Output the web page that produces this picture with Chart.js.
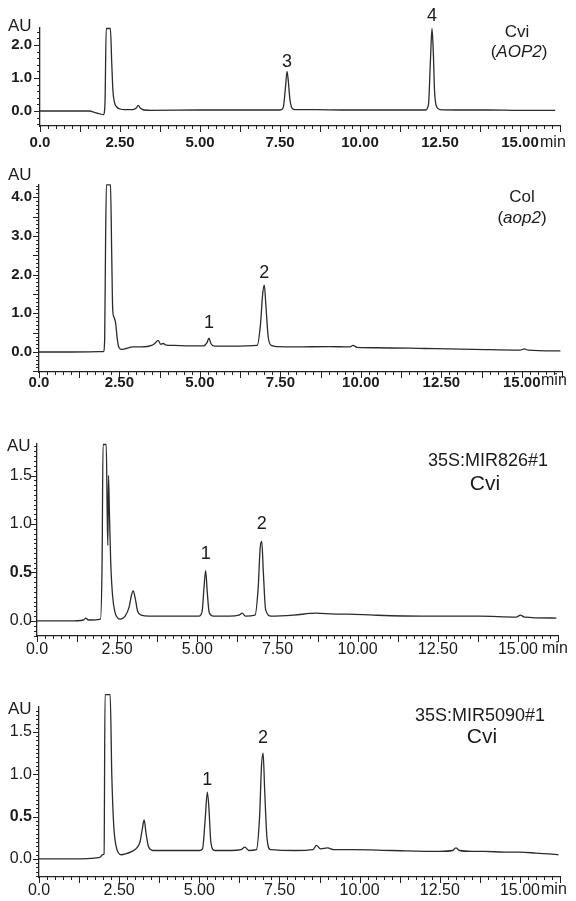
<!DOCTYPE html>
<html>
<head>
<meta charset="utf-8">
<script src="https://cdn.jsdelivr.net/npm/chart.js@4.4.1/dist/chart.umd.min.js"></script>
<style>
  body { margin: 0; background: #fff; }
  #wrap { position: relative; width: 576px; height: 901px; overflow: hidden; }
  canvas { position: absolute; left: 0; }
</style>
</head>
<body>
<div id="wrap">
  <canvas id="p1" width="576" height="160" style="top:0px"></canvas>
  <canvas id="p2" width="576" height="240" style="top:160px"></canvas>
  <canvas id="p3" width="576" height="260" style="top:400px"></canvas>
  <canvas id="p4" width="576" height="241" style="top:660px"></canvas>
</div>
<script>
// x axis (retention time, min)
const xTickValues = [0, 2.5, 5, 7.5, 10, 12.5, 15];
const xTickLabels = ['0.0', '2.50', '5.00', '7.50', '10.00', '12.50', '15.00'];

// Cvi (AOP2)
const cviTime = [0, 1.0, 1.55, 1.7, 1.85, 1.98, 2.03, 2.07, 2.1, 2.2, 2.24, 2.28, 2.33, 2.4, 2.5, 2.65, 2.9, 3.0, 3.07, 3.14, 3.25, 3.5, 5.0, 6.5, 7.5, 7.6, 7.67, 7.72, 7.76, 7.81, 7.88, 7.98, 8.6, 9.5, 11.0, 12.05, 12.14, 12.2, 12.25, 12.29, 12.33, 12.4, 12.5, 13.0, 14.0, 15.0, 16.1];
const cviAU = [0.0, 0.0, 0.0, -0.04, -0.08, -0.11, 0.2, 2.5, 2.5, 2.5, 1.5, 0.6, 0.25, 0.12, 0.06, 0.04, 0.04, 0.08, 0.17, 0.08, 0.03, 0.02, 0.03, 0.03, 0.03, 0.1, 0.7, 1.2, 0.9, 0.35, 0.08, 0.04, 0.04, 0.03, 0.03, 0.03, 0.2, 1.5, 2.5, 1.8, 0.6, 0.12, 0.04, 0.03, 0.03, 0.02, 0.02];
const cviYTicks = [0, 1, 2];
const cviYLabels = ['0.0', '1.0', '2.0'];

// Col (aop2)
const colTime = [0, 1.0, 2.0, 2.04, 2.07, 2.1, 2.22, 2.26, 2.29, 2.33, 2.38, 2.43, 2.48, 2.56, 2.7, 2.9, 3.2, 3.5, 3.62, 3.7, 3.78, 3.86, 3.95, 4.2, 4.7, 5.12, 5.22, 5.28, 5.34, 5.45, 6.0, 6.78, 6.88, 6.95, 7.0, 7.05, 7.12, 7.22, 7.4, 8.0, 9.0, 9.65, 9.76, 9.88, 10.5, 12.0, 13.5, 14.95, 15.08, 15.2, 16.2];
const colAU = [0.0, 0.0, 0.01, 0.3, 3.0, 4.32, 4.32, 2.5, 1.1, 0.9, 0.75, 0.35, 0.12, 0.07, 0.09, 0.13, 0.13, 0.17, 0.24, 0.3, 0.2, 0.22, 0.18, 0.17, 0.16, 0.16, 0.24, 0.36, 0.22, 0.15, 0.15, 0.17, 0.7, 1.5, 1.73, 1.2, 0.4, 0.17, 0.14, 0.13, 0.14, 0.13, 0.17, 0.12, 0.11, 0.09, 0.07, 0.05, 0.08, 0.05, 0.03];
const colYTicks = [0, 1, 2, 3, 4];
const colYLabels = ['0.0', '1.0', '2.0', '3.0', '4.0'];

// 35S:MIR826#1 Cvi
const mir826Time = [0, 1.0, 1.45, 1.52, 1.6, 1.98, 2.03, 2.06, 2.16, 2.19, 2.21, 2.23, 2.26, 2.3, 2.36, 2.44, 2.52, 2.6, 2.75, 2.87, 2.95, 3.0, 3.06, 3.14, 3.25, 3.5, 4.0, 5.05, 5.15, 5.21, 5.26, 5.31, 5.37, 5.5, 6.0, 6.3, 6.4, 6.5, 6.8, 6.9, 6.96, 7.01, 7.06, 7.13, 7.3, 8.0, 8.7, 9.3, 9.7, 10.5, 12.0, 13.8, 14.95, 15.08, 15.2, 16.2];
const mir826AU = [0.0, 0.0, 0.01, 0.03, 0.01, 0.02, 0.6, 1.82, 1.82, 1.1, 0.78, 1.5, 1.1, 0.6, 0.25, 0.08, 0.03, 0.02, 0.05, 0.14, 0.27, 0.31, 0.24, 0.1, 0.06, 0.05, 0.05, 0.05, 0.1, 0.35, 0.52, 0.3, 0.09, 0.05, 0.05, 0.06, 0.08, 0.05, 0.06, 0.35, 0.75, 0.82, 0.5, 0.12, 0.05, 0.06, 0.08, 0.07, 0.07, 0.06, 0.05, 0.05, 0.04, 0.06, 0.04, 0.03];

// 35S:MIR5090#1 Cvi
const mir5090Time = [0, 1.0, 1.9, 1.98, 2.03, 2.06, 2.22, 2.27, 2.33, 2.4, 2.48, 2.56, 2.7, 2.9, 3.05, 3.15, 3.22, 3.28, 3.34, 3.42, 3.55, 4.0, 5.0, 5.1, 5.18, 5.25, 5.3, 5.36, 5.48, 6.0, 6.3, 6.42, 6.55, 6.78, 6.88, 6.94, 6.99, 7.04, 7.11, 7.22, 8.0, 8.55, 8.65, 8.78, 9.0, 9.2, 9.8, 11.0, 12.5, 12.9, 13.0, 13.12, 13.5, 13.9, 14.5, 15.0, 15.5, 15.9, 16.2];
const mir5090AU = [0.0, 0.0, 0.02, 0.05, 0.06, 1.94, 1.94, 1.0, 0.4, 0.16, 0.07, 0.05, 0.06, 0.09, 0.13, 0.2, 0.35, 0.46, 0.3, 0.14, 0.1, 0.1, 0.1, 0.12, 0.45, 0.79, 0.6, 0.2, 0.1, 0.1, 0.11, 0.14, 0.1, 0.11, 0.5, 1.1, 1.25, 0.8, 0.25, 0.11, 0.1, 0.11, 0.16, 0.12, 0.13, 0.11, 0.11, 0.1, 0.09, 0.1, 0.13, 0.1, 0.09, 0.09, 0.08, 0.08, 0.07, 0.06, 0.05];
const mirYTicks = [0, 0.5, 1, 1.5];
const mirYLabels = ['0.0', '0.5', '1.0', '1.5'];

const FONT = '"Liberation Sans", Arial, sans-serif';
const INK = '#1b1b1b';

// minor/major tick marks drawn on the library's scales
const axisTicks = {
  id: 'axisTicks',
  afterDraw(chart, args, opts) {
    const { ctx, scales: { x, y } } = chart;
    ctx.save();
    ctx.strokeStyle = '#222';
    ctx.lineWidth = 1;
    for (let i = 0; i * 0.25 <= x.max + 1e-6; i++) {
      const px = Math.round(x.getPixelForValue(i * 0.25)) + 0.5;
      const len = i % 5 === 0 ? 6 : 3;
      ctx.beginPath();
      ctx.moveTo(px, x.top);
      ctx.lineTo(px, x.top + len);
      ctx.stroke();
    }
    const step = opts.yMinor;
    for (let i = Math.ceil(y.min / step); i * step <= y.max + 1e-6; i++) {
      const v = i * step;
      const r = v / opts.yMajor;
      const major = Math.abs(r - Math.round(r)) < 1e-6;
      const py = Math.round(y.getPixelForValue(v)) + 0.5;
      ctx.beginPath();
      ctx.moveTo(y.right, py);
      ctx.lineTo(y.right - (major ? 6 : 3), py);
      ctx.stroke();
    }
    ctx.restore();
  }
};

// texts: AU, min, sample names, peak numbers
const panelText = {
  id: 'panelText',
  afterDraw(chart, args, opts) {
    const { ctx, scales: { x } } = chart;
    ctx.save();
    ctx.fillStyle = INK;
    ctx.textBaseline = 'middle';
    ctx.textAlign = 'left';
    ctx.font = '17px ' + FONT;
    ctx.fillText('AU', opts.au[0], opts.au[1]);
    ctx.font = '16px ' + FONT;
    ctx.fillText('min', opts.min[0], opts.min[1]);
    (opts.names || []).forEach(n => {
      // segments so that only gene names are italic
      let w = 0;
      n.parts.forEach(p => {
        ctx.font = (p.italic ? 'italic ' : '') + n.size + 'px ' + FONT;
        p.w = ctx.measureText(p.t).width;
        w += p.w;
      });
      let cx = n.x - w / 2;
      n.parts.forEach(p => {
        ctx.font = (p.italic ? 'italic ' : '') + n.size + 'px ' + FONT;
        ctx.fillText(p.t, cx, n.y);
        cx += p.w;
      });
    });
    ctx.textAlign = 'center';
    ctx.font = '18px ' + FONT;
    (opts.peaks || []).forEach(p => {
      ctx.fillText(p.label, x.getPixelForValue(p.t), p.y);
    });
    ctx.restore();
  }
};

function makePanel(id, time, au, cfg) {
  const points = time.map((t, i) => ({ x: t, y: au[i] }));
  return new Chart(document.getElementById(id), {
    type: 'line',
    data: {
      datasets: [{
        data: points,
        borderColor: '#2b2b2b',
        borderWidth: 1.3,
        pointRadius: 0,
        cubicInterpolationMode: 'monotone',
        clip: false
      }]
    },
    options: {
      responsive: false,
      animation: false,
      events: [],
      layout: { padding: { left: 0, top: cfg.top, right: cfg.right, bottom: 0 } },
      plugins: {
        legend: { display: false },
        tooltip: { enabled: false },
        axisTicks: { yMinor: cfg.yMinor, yMajor: cfg.yMajor },
        panelText: cfg.text
      },
      scales: {
        x: {
          type: 'linear',
          min: 0,
          max: 16.25,
          afterBuildTicks: s => { s.ticks = xTickValues.map(v => ({ value: v })); },
          afterFit: s => { s.height = cfg.xHeight; },
          grid: { display: false, drawTicks: false },
          border: { display: true, color: '#222', width: 1.3 },
          ticks: {
            autoSkip: false,
            maxRotation: 0,
            padding: cfg.xPad,
            color: INK,
            font: { family: FONT, size: cfg.fontSize, weight: cfg.bold ? 'bold' : 'normal' },
            callback: (v, i) => xTickLabels[i]
          }
        },
        y: {
          type: 'linear',
          min: cfg.yMin,
          max: cfg.yMax,
          afterBuildTicks: s => { s.ticks = cfg.yTicks.map(v => ({ value: v })); },
          afterFit: s => { s.width = cfg.left; },
          grid: { display: false, drawTicks: false },
          border: { display: true, color: '#222', width: 1.3 },
          ticks: {
            autoSkip: false,
            padding: cfg.left - 32,
            color: INK,
            font: c => ({
              family: FONT,
              size: cfg.fontSize,
              weight: (cfg.bold || (c.tick && c.tick.value === 0.5)) ? 'bold' : 'normal'
            }),
            callback: (v, i) => cfg.yLabels[i]
          }
        }
      }
    },
    plugins: [axisTicks, panelText]
  });
}

makePanel('p1', cviTime, cviAU, {
  top: 28, right: 16, left: 40, xHeight: 34, xPad: 8, bold: true, fontSize: 15,
  yMin: -0.455, yMax: 2.515, yTicks: cviYTicks, yLabels: cviYLabels, yMinor: 0.2, yMajor: 1,
  text: {
    au: [8, 26], min: [540, 143],
    names: [
      { x: 517, y: 32, size: 17, parts: [{ t: 'Cvi' }] },
      { x: 519, y: 52, size: 17, parts: [{ t: '(' }, { t: 'AOP2', italic: true }, { t: ')' }] }
    ],
    peaks: [{ label: '3', t: 7.72, y: 62 }, { label: '4', t: 12.25, y: 16 }]
  }
});

makePanel('p2', colTime, colAU, {
  top: 25, right: 14, left: 39, xHeight: 28, xPad: 2, bold: true, fontSize: 15,
  yMin: -0.517, yMax: 4.315, yTicks: colYTicks, yLabels: colYLabels, yMinor: 0.1, yMajor: 0.5,
  text: {
    au: [8, 15], min: [541, 221],
    names: [
      { x: 522, y: 37, size: 17, parts: [{ t: 'Col' }] },
      { x: 522, y: 58, size: 17, parts: [{ t: '(' }, { t: 'aop2', italic: true }, { t: ')' }] }
    ],
    peaks: [{ label: '1', t: 5.28, y: 163 }, { label: '2', t: 7.0, y: 113 }]
  }
});

makePanel('p3', mir826Time, mir826AU, {
  top: 44, right: 18, left: 37, xHeight: 24, xPad: 4, bold: false, fontSize: 16,
  yMin: -0.155, yMax: 1.825, yTicks: mirYTicks, yLabels: mirYLabels, yMinor: 0.05, yMajor: 0.5,
  text: {
    au: [7, 46], min: [542, 249],
    names: [
      { x: 488, y: 61, size: 18, parts: [{ t: '35S:MIR826#1' }] },
      { x: 485, y: 84, size: 21, parts: [{ t: 'Cvi' }] }
    ],
    peaks: [{ label: '1', t: 5.26, y: 154 }, { label: '2', t: 7.01, y: 124 }]
  }
});

makePanel('p4', mir5090Time, mir5090AU, {
  top: 47, right: 16, left: 39, xHeight: 24, xPad: 4, bold: false, fontSize: 16,
  yMin: -0.213, yMax: 1.795, yTicks: mirYTicks, yLabels: mirYLabels, yMinor: 0.05, yMajor: 0.5,
  text: {
    au: [8, 49], min: [541, 230],
    names: [
      { x: 480, y: 56, size: 18, parts: [{ t: '35S:MIR5090#1' }] },
      { x: 482, y: 77, size: 21, parts: [{ t: 'Cvi' }] }
    ],
    peaks: [{ label: '1', t: 5.25, y: 120 }, { label: '2', t: 6.99, y: 78 }]
  }
});
</script>
</body>
</html>
